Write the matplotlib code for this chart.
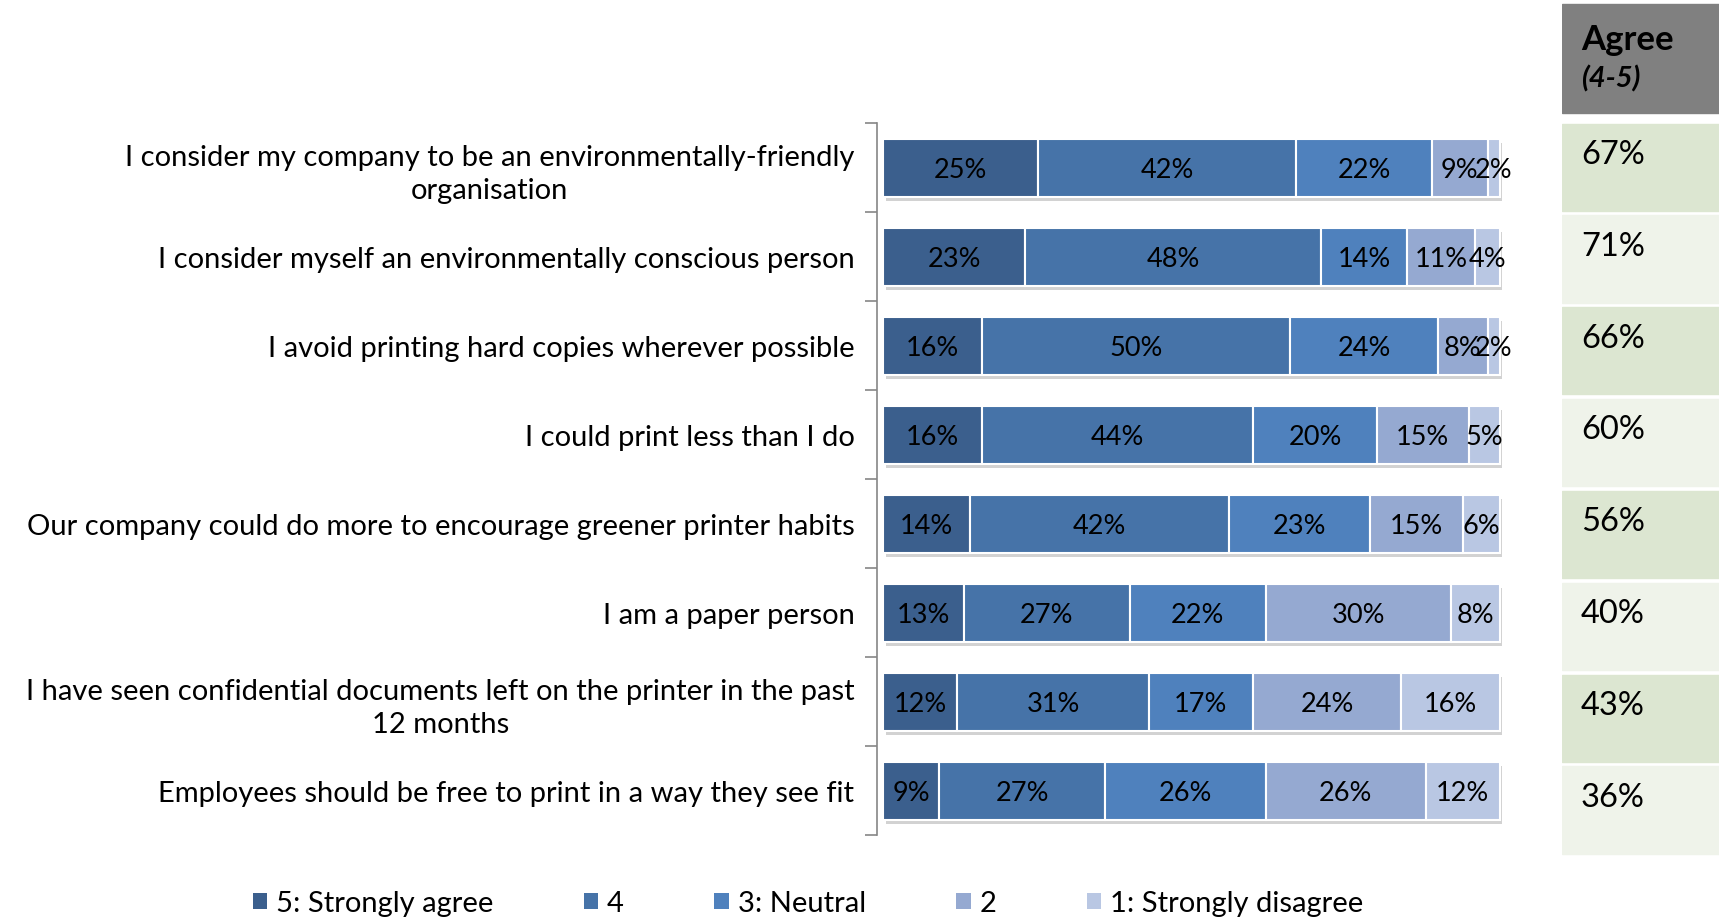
import matplotlib
matplotlib.use("Agg")
import matplotlib.pyplot as plt
from matplotlib.patches import Rectangle, Patch
from matplotlib import patheffects as pe

plt.rcParams['font.family'] = ['Lato', 'DejaVu Sans']

# survey statements (top to bottom)
statements = [
    "I consider my company to be an environmentally-friendly\norganisation",
    "I consider myself an environmentally conscious person",
    "I avoid printing hard copies wherever possible",
    "I could print less than I do",
    "Our company could do more to encourage greener printer habits",
    "I am a paper person",
    "I have seen confidential documents left on the printer in the past\n12 months",
    "Employees should be free to print in a way they see fit",
]

# share of answers per scale point (%)
strongly_agree = [25, 23, 16, 16, 14, 13, 12, 9]
agree4 = [42, 48, 50, 44, 42, 27, 31, 27]
neutral = [22, 14, 24, 20, 23, 22, 17, 26]
disagree2 = [9, 11, 8, 15, 15, 30, 24, 26]
strongly_disagree = [2, 4, 2, 5, 6, 8, 16, 12]

agree_total = [67, 71, 66, 60, 56, 40, 43, 36]

series_names = ["5: Strongly agree", "4", "3: Neutral", "2", "1: Strongly disagree"]
series = [strongly_agree, agree4, neutral, disagree2, strongly_disagree]
colors = ["#3b5f8d", "#4673a8", "#4f81bd", "#95a9d1", "#b9c7e3"]

fig = plt.figure(figsize=(17.19, 9.2), dpi=100)

# main stacked bar chart
ax = fig.add_axes([0.510, 0.0908, 0.3636, 0.774])
ypos = list(range(len(statements)))
left = [0] * len(statements)
shadow = [pe.SimplePatchShadow(offset=(2, -3), shadow_rgbFace="#7f7f7f", alpha=0.35), pe.Normal()]
for name, vals, col in zip(series_names, series, colors):
    bars = ax.barh(ypos, vals, left=left, height=0.66, color=col,
                   edgecolor="white", linewidth=1.5, label=name)
    for b in bars:
        b.set_path_effects(shadow)
    for y, v, l in zip(ypos, vals, left):
        ax.text(l + v / 2, y + 0.02, f"{v}%", ha="center", va="center",
                fontsize=19.5, color="black")
    left = [l + v for l, v in zip(left, vals)]

ax.set_xlim(-1.1, 100.3)
ax.set_ylim(7.5, -0.5)
ax.set_xticks([])
ax.set_yticks(ypos)
ax.set_yticklabels(statements, fontsize=21, multialignment="center", linespacing=1.3)
ax.tick_params(axis="y", which="major", length=0, pad=16)
ax.set_yticks([i - 0.5 for i in range(len(statements) + 1)], minor=True)
ax.tick_params(axis="y", which="minor", length=9, color="#868686", width=1.2)
for s in ["top", "right", "bottom"]:
    ax.spines[s].set_visible(False)
ax.spines["left"].set_color("#868686")
ax.spines["left"].set_linewidth(1.2)

# Agree (4-5) column on the right
tx = fig.add_axes([0.9087, 0.068, 0.0913, 0.9284])
tx.set_xlim(0, 1)
tx.set_ylim(8.0, -1.3)
tx.axis("off")
tx.add_patch(Rectangle((0, -1.28), 1, 1.18, color="#808080"))
tx.text(0.12, -0.9, "Agree", fontsize=25, fontweight="bold", va="center")
tx.text(0.12, -0.48, "(4-5)", fontsize=21, fontweight="bold", fontstyle="italic", va="center")
for i, v in enumerate(agree_total):
    cell_col = "#dce6d1" if i % 2 == 0 else "#eff3ea"
    tx.add_patch(Rectangle((0, i + 0.02), 1, 0.95, color=cell_col))
    tx.text(0.12, i + 0.35, f"{v}%", fontsize=23.5, va="center")

handles = [Patch(facecolor=c, edgecolor="none") for c in colors]
fig.legend(handles, series_names, loc="center", bbox_to_anchor=(0.47, 0.017),
           ncol=5, frameon=False, fontsize=21, handlelength=0.5, handleheight=0.5,
           handletextpad=0.3, columnspacing=3.1)

fig.savefig("out.png", dpi=100)
